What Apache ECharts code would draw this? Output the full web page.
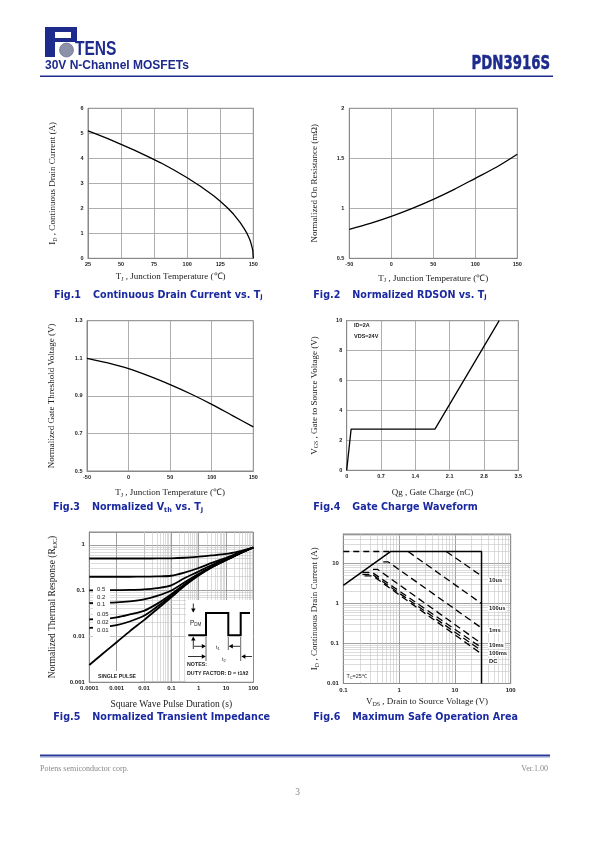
<!DOCTYPE html>
<html><head><meta charset="utf-8">
<script src="https://cdn.jsdelivr.net/npm/echarts@6/dist/echarts.min.js"></script>
<style>html,body{margin:0;padding:0;background:#fff}#c{width:595px;height:842px}</style>
</head><body><div id="c"></div>
<script>
// ---------------- DATA ----------------
const fig1Temp = [25,30,40,50,60,70,75,80,90,100,110,120,125,130,135,140,143,145,147,148,149,149.6,150];
const fig1Current = [5.10,5.00,4.79,4.56,4.33,4.08,3.95,3.82,3.53,3.22,2.88,2.50,2.28,2.04,1.77,1.44,1.20,1.02,0.79,0.65,0.46,0.32,0];
const fig1XTicks = ['25','50','75','100','125','150'];
const fig1YTicks = ['0','1','2','3','4','5','6'];

const fig2Temp = [-50,-25,0,25,50,75,100,125,150];
const fig2Rdson = [0.79,0.85,0.92,1.00,1.09,1.19,1.30,1.41,1.54];
const fig2XTicks = ['-50','0','50','100','150'];
const fig2YTicks = ['0.5','1','1.5','2'];

const fig3Temp = [-50,-25,0,25,50,75,100,125,150];
const fig3Vth = [1.10,1.075,1.045,1.005,0.96,0.91,0.855,0.795,0.735];
const fig3XTicks = ['-50','0','50','100','150'];
const fig3YTicks = ['0.5','0.7','0.9','1.1','1.3'];

const fig4Qg = [0,0.09,1.80,3.11];
const fig4Vgs = [0,2.75,2.75,10];
const fig4XTicks = ['0','0.7','1.4','2.1','2.8','3.5'];
const fig4YTicks = ['0','2','4','6','8','10'];

const fig5Duration = [0.0001,0.0003,0.001,0.003,0.01,0.03,0.1,0.3,1,3,10,30,100];
const fig5D050 = [0.50,0.50,0.50,0.50,0.50,0.502,0.505,0.52,0.55,0.585,0.63,0.72,0.87];
const fig5D020 = [0.20,0.20,0.20,0.20,0.201,0.203,0.21,0.245,0.31,0.40,0.52,0.67,0.87];
const fig5D010 = [0.101,0.101,0.102,0.103,0.106,0.113,0.13,0.185,0.26,0.36,0.49,0.65,0.87];
const fig5D005 = [0.053,0.054,0.055,0.058,0.064,0.076,0.10,0.15,0.232,0.335,0.47,0.637,0.87];
const fig5D002 = [0.0235,0.024,0.026,0.030,0.036,0.051,0.083,0.136,0.222,0.327,0.466,0.635,0.87];
const fig5D001 = [0.0152,0.0158,0.0175,0.021,0.028,0.044,0.077,0.13,0.218,0.323,0.463,0.633,0.87];
const fig5Single = [0.00235,0.0041,0.0074,0.0128,0.0225,0.039,0.071,0.125,0.212,0.318,0.458,0.63,0.87];
const fig5XTicks = ['0.0001','0.001','0.01','0.1','1','10','100'];
const fig5YTicks = ['0.001','0.01','0.1','1'];
const fig5Legend = ['0.5','0.2','0.1','0.05','0.02','0.01'];

const fig6LimitV = [0.1,0.7,30,30];
const fig6LimitI = [2.86,20,20,0.01];
const fig6PkgV = [0.1,0.7];
const fig6PkgI = [20,20];
const fig6V10us = [7.0,30];    const fig6I10us = [20,4.9];
const fig6V100us = [1.45,30];  const fig6I100us = [20,1.0];
const fig6V1ms = [0.52,0.64,30];  const fig6I1ms = [11,11,0.245];
const fig6V10ms = [0.34,0.41,30]; const fig6I10ms = [7.2,7.2,0.10];
const fig6V100ms = [0.22,0.33,30]; const fig6I100ms = [6.0,6.0,0.079];
const fig6V1s = [0.22,0.33,30];   const fig6I1s = [5.4,5.4,0.066];
const fig6VDC = [0.24,0.34,30];   const fig6IDC = [4.9,4.9,0.055];
const fig6XTicks = ['0.1','1','10','100'];
const fig6YTicks = ['0.01','0.1','1','10'];
const fig6Labels = ['10us','100us','1ms','10ms','100ms','DC'];

// ---------------- STYLE ----------------
const NAVY = '#1d2b8c';
const CAP = '#1b29a0';
const serif = '"Liberation Serif","Times New Roman",serif';
const sans = '"Liberation Sans",Arial,sans-serif';
const heavy = '"DejaVu Sans",sans-serif';
const zip = (a,b) => a.map((v,i)=>[v,b[i]]);

const nameRich = {
  m:{fontFamily:serif,fontSize:9,color:'#222',lineHeight:11},
  s:{fontFamily:serif,fontSize:6,color:'#222',lineHeight:8,verticalAlign:'bottom'}
};
function linAxis(gi,min,max,interval,ticks,name,nameGap,margin){
  return {gridIndex:gi,type:'value',min,max,interval,
    axisLine:{show:true,onZero:false,lineStyle:{color:'#888',width:1}},
    axisTick:{show:false},
    splitLine:{show:true,lineStyle:{color:'#999',width:0.8}},
    axisLabel:{fontSize:5.5,fontWeight:'bold',fontFamily:sans,color:'#222',margin,showMinLabel:true,showMaxLabel:true,
      formatter:v=>{const i=Math.round((v-min)/interval);return ticks[i]!==undefined?ticks[i]:'';}},
    name,nameLocation:'middle',nameGap,nameTextStyle:{fontFamily:serif,fontSize:9,color:'#222',rich:nameRich}};
}
function logAxis(gi,min,max,ticks,minExp,name,nameGap,margin,fs){
  return {gridIndex:gi,type:'log',logBase:10,min,max,
    axisLine:{show:true,onZero:false,lineStyle:{color:'#888',width:1}},
    axisTick:{show:false},
    splitLine:{show:true,lineStyle:{color:'#888',width:0.8}},
    axisLabel:{fontSize:6,fontWeight:'bold',fontFamily:sans,color:'#222',margin,showMinLabel:true,showMaxLabel:true,
      formatter:v=>{const e=Math.log10(v);const r=Math.round(e);if(Math.abs(e-r)>1e-6)return '';const t=ticks[r-minExp];return t!==undefined?t:'';}},
    name,nameLocation:'middle',nameGap,nameTextStyle:{fontFamily:serif,fontSize:fs||9,color:'#222',
      rich:{m:{fontFamily:serif,fontSize:fs||9,color:'#222',lineHeight:11},s:{fontFamily:serif,fontSize:6,color:'#222',lineHeight:8,verticalAlign:'bottom'}}}};
}
function minorVals(d0,d1,maxV){const out=[];for(let d=d0;d<=d1;d++)for(let k=2;k<10;k++){const v=+(k*Math.pow(10,d)).toPrecision(3);if(v<maxV)out.push(v);}return out;}
function minorSeries(gi,xs,ys,anchor){
  return {type:'line',xAxisIndex:gi,yAxisIndex:gi,data:[anchor],symbol:'none',lineStyle:{opacity:0},z:1,silent:true,
    markLine:{silent:true,z:1,symbol:['none','none'],label:{show:false},emphasis:{disabled:true},animation:false,
      lineStyle:{color:'#c4c4c4',width:0.6,type:'solid'},
      data:xs.map(v=>({xAxis:v})).concat(ys.map(v=>({yAxis:v})))}};
}
function line(gi,xs,ys,o){
  return Object.assign({type:'line',xAxisIndex:gi,yAxisIndex:gi,data:zip(xs,ys),symbol:'none',showSymbol:false,
    lineStyle:{color:'#000',width:1.3},silent:true,z:3},o||{});
}

// ---------------- GRAPHICS ----------------
const G = [];
function txt(x,y,text,o,el){G.push(Object.assign({type:'text',x,y,z:100,silent:true,style:Object.assign({text,fill:'#222',fontSize:6,fontFamily:sans,align:'left',verticalAlign:'middle'},o||{})},el||{}));}
function rect(x,y,w,h,fill,z){G.push({type:'rect',z:z||90,silent:true,shape:{x,y,width:w,height:h},style:{fill}});}
function pl(points,w,stroke){G.push({type:'polyline',z:100,silent:true,shape:{points},style:{stroke:stroke||'#000',lineWidth:w,fill:null}});}
function head(x,y,dir){
  const s=2.2,l=4; let p;
  if(dir==='down')p=[[x,y],[x-s,y-l],[x+s,y-l]];
  if(dir==='up')p=[[x,y],[x-s,y+l],[x+s,y+l]];
  if(dir==='right')p=[[x,y],[x-l,y-s],[x-l,y+s]];
  if(dir==='left')p=[[x,y],[x+l,y-s],[x+l,y+s]];
  G.push({type:'polygon',z:100,silent:true,shape:{points:p},style:{fill:'#000'}});
}

// header logo
rect(45,27,10,30,NAVY,95); rect(45,27,32,5,NAVY,95); rect(71,27,6,15,NAVY,95); rect(55,38,22,4,NAVY,95);
G.push({type:'circle',z:96,silent:true,shape:{cx:66.5,cy:50,r:7},style:{fill:'#8c92a8',stroke:'#5c6282',lineWidth:0.6}});
txt(75,49.5,'TENS',{fontSize:21,fontWeight:'bold',fontFamily:sans,fill:NAVY},{scaleX:0.74});
txt(45,66,'30V N-Channel MOSFETs',{fontSize:12,fontWeight:'bold',fontFamily:sans,fill:NAVY});
txt(550,64,'PDN3916S',{fontSize:19,fontWeight:'bold',fontFamily:heavy,fill:NAVY,align:'right',stroke:NAVY,lineWidth:0.5},{scaleX:0.7});
rect(40,75.5,513,1.5,NAVY,95);

// captions
const capRich = {s:{fontSize:6.5,fontWeight:'bold',fontFamily:heavy,fill:CAP,verticalAlign:'bottom',lineHeight:9}};
[[54,295,'Fig.1','Continuous Drain Current vs. T{s|J}'],
 [313.3,295,'Fig.2','Normalized RDSON vs. T{s|J}'],
 [53,507.7,'Fig.3','Normalized V{s|th} vs. T{s|J}'],
 [313.3,507.7,'Fig.4','Gate Charge Waveform'],
 [53.3,717.3,'Fig.5','Normalized Transient Impedance'],
 [313.3,717.3,'Fig.6','Maximum Safe Operation Area']].forEach(c=>{
  txt(c[0],c[1],c[2],{fontSize:9.6,fontWeight:'bold',fontFamily:heavy,fill:CAP});
  txt(c[0]+39,c[1],c[3],{fontSize:9.6,fontWeight:'bold',fontFamily:heavy,fill:CAP,lineHeight:12,rich:capRich});
});

// fig4 annotations
txt(354,325,'ID=2A',{fontSize:5.5,fontWeight:'bold'});
txt(354,336,'VDS=24V',{fontSize:5.5,fontWeight:'bold'});

// fig5 legend box
rect(93,584,17,53,'#fff');
const legY=[589,597.3,604.7,614,622.3,630.7];
fig5Legend.forEach((t,i)=>txt(97,legY[i],t,{fontSize:6,fontFamily:sans}));
rect(90.5,671,50,10.5,'#fff');
txt(98,677,'SINGLE PULSE',{fontSize:5.2,fontWeight:'bold'});
// fig5 inset
rect(186,600,67,81.5,'#fff');
pl([[188.3,635.3],[206,635.3],[206,613],[228.3,613],[228.3,635.3],[240.7,635.3],[240.7,613],[250,613]],2);
txt(190,623.5,'P{s|DM}',{fontSize:6.5,rich:{s:{fontSize:4.5,verticalAlign:'bottom',lineHeight:6}},lineHeight:8});
pl([[193.3,603.5],[193.3,612]],0.8); head(193.3,612.5,'down');
pl([[193.3,649],[193.3,637.5]],0.8); head(193.3,636.5,'up');
pl([[206,637],[206,661]],0.6); pl([[228.3,637],[228.3,650]],0.6); pl([[240.7,637],[240.7,661]],0.6);
pl([[194,646.3],[205,646.3]],0.8); head(205.8,646.3,'right');
pl([[240,646.3],[229.5,646.3]],0.8); head(228.8,646.3,'left');
txt(216,647.5,'t{s|1}',{fontSize:5.5,rich:{s:{fontSize:4,verticalAlign:'bottom',lineHeight:6}},lineHeight:7});
pl([[188,656.5],[205,656.5]],0.8); head(205.8,656.5,'right');
pl([[252,656.5],[242,656.5]],0.8); head(241.4,656.5,'left');
txt(222,659,'t{s|2}',{fontSize:5.5,rich:{s:{fontSize:4,verticalAlign:'bottom',lineHeight:6}},lineHeight:7});
txt(187,665,'NOTES:',{fontSize:5.3,fontWeight:'bold'});
txt(187,674,'DUTY FACTOR: D = t1/t2',{fontSize:5.3,fontWeight:'bold'});

// fig6 labels
rect(344,671.5,21,10,'#fff');
txt(346.5,676.5,'T{s|C}=25\u2103',{fontSize:5.3,rich:{s:{fontSize:4,verticalAlign:'bottom',lineHeight:6}},lineHeight:7});
const f6LabY=[580.5,608.5,630.5,645.5,653.3,661];
fig6Labels.forEach((t,i)=>txt(488,f6LabY[i],t,{fontSize:5.8,fontWeight:'bold',backgroundColor:'#fff',padding:[0,1]}));

// footer
rect(40,754.5,510,2,'#2a3a98',95); rect(40,756.5,510,1,'#8e9ad0',95);
txt(40,769,'Potens semiconductor corp.',{fontSize:8,fontFamily:serif,fill:'#888'});
txt(548,769,'Ver.1.00',{fontSize:8,fontFamily:serif,fill:'#888',align:'right'});
txt(297.5,792,'3',{fontSize:9.5,fontFamily:serif,fill:'#888',align:'center'});

// ---------------- OPTION ----------------
const grids=[
  {left:88,top:108.3,width:165.3,height:150},
  {left:349.3,top:108.3,width:168,height:150},
  {left:87,top:320.7,width:166.3,height:150.3},
  {left:346.7,top:320.7,width:171.6,height:149.6},
  {left:89.3,top:532,width:164,height:150},
  {left:343.3,top:534,width:167.4,height:149.5}
].map(g=>Object.assign(g,{show:true,borderColor:'#888',borderWidth:1,backgroundColor:'transparent'}));

const TJ='{m|T}{s|J}{m| , Junction Temperature (\u2103)}';
const option={
  animation:false,
  grid:grids,
  xAxis:[
    linAxis(0,25,150,25,fig1XTicks,TJ,13,3.5),
    linAxis(1,-50,150,50,fig2XTicks,TJ,14.5,3.5),
    linAxis(2,-50,150,50,fig3XTicks,TJ,16,3.5),
    linAxis(3,0,3.5,0.7,fig4XTicks,'{m|Qg , Gate Charge (nC)}',16.5,3.5),
    logAxis(4,0.0001,100,fig5XTicks,-4,'{m|Square Wave Pulse Duration (s)}',17,3.5,9.5),
    logAxis(5,0.1,100,fig6XTicks,-1,'{m|V}{s|DS}{m| , Drain to Source Voltage (V)}',13,3.5,9)
  ],
  yAxis:[
    linAxis(0,0,6,1,fig1YTicks,'{m|I}{s|D}{m| , Continuous Drain Current (A)}',30,4.5),
    linAxis(1,0.5,2,0.5,fig2YTicks,'{m|Normalized On Resistance (m\u03a9)}',29,5),
    linAxis(2,0.5,1.3,0.2,fig3YTicks,'{m|Normalized Gate Threshold Voltage (V)}',30,4.5),
    linAxis(3,0,10,2,fig4YTicks,'{m|V}{s|GS}{m| , Gate to Source Voltage (V)}',27,4.5),
    logAxis(4,0.001,1.9,fig5YTicks,-3,'{m|Normalized Thermal Response (R}{s|\u03b8JC}{m|)}',31,4.5,9.5),
    logAxis(5,0.01,55,fig6YTicks,-2,'{m|I}{s|D}{m| , Continuous Drain Current (A)}',23,4.5,9)
  ],
  series:[
    line(0,fig1Temp,fig1Current),
    line(1,fig2Temp,fig2Rdson,{smooth:0.3}),
    line(2,fig3Temp,fig3Vth,{smooth:0.3}),
    line(3,fig4Qg,fig4Vgs),
    minorSeries(4,minorVals(-4,1,100),minorVals(-3,0,1.9),[1,0.1]),
    line(4,fig5Duration,fig5D050,{smooth:0.3,lineStyle:{color:'#000',width:1.8}}),
    line(4,fig5Duration,fig5D020,{smooth:0.3,lineStyle:{color:'#000',width:1.8}}),
    line(4,fig5Duration,fig5D010,{smooth:0.3,lineStyle:{color:'#000',width:1.8}}),
    line(4,fig5Duration,fig5D005,{smooth:0.3,lineStyle:{color:'#000',width:1.8}}),
    line(4,fig5Duration,fig5D002,{smooth:0.3,lineStyle:{color:'#000',width:1.8}}),
    line(4,fig5Duration,fig5D001,{smooth:0.3,lineStyle:{color:'#000',width:1.8}}),
    line(4,fig5Duration,fig5Single,{smooth:0.3,lineStyle:{color:'#000',width:1.8}}),
    minorSeries(5,minorVals(-1,1,100),minorVals(-2,1,55),[1,1]),
    line(5,fig6LimitV,fig6LimitI,{lineStyle:{color:'#000',width:1.5}}),
    line(5,fig6PkgV,fig6PkgI,{lineStyle:{color:'#000',width:1.4,type:[6,4]}}),
    line(5,fig6V10us,fig6I10us,{lineStyle:{color:'#000',width:1.3,type:[7,4]}}),
    line(5,fig6V100us,fig6I100us,{lineStyle:{color:'#000',width:1.3,type:[7,4]}}),
    line(5,fig6V1ms,fig6I1ms,{lineStyle:{color:'#000',width:1.3,type:[7,4]}}),
    line(5,fig6V10ms,fig6I10ms,{lineStyle:{color:'#000',width:1.3,type:[7,4]}}),
    line(5,fig6V100ms,fig6I100ms,{lineStyle:{color:'#000',width:1.3,type:[7,4]}}),
    line(5,fig6V1s,fig6I1s,{lineStyle:{color:'#000',width:1.3,type:[7,4]}}),
    line(5,fig6VDC,fig6IDC,{lineStyle:{color:'#000',width:1.3,type:[7,4]}})
  ],
  graphic:{elements:G}
};
const chart=echarts.init(document.getElementById('c'),null,{renderer:'canvas',width:595,height:842});
chart.setOption(option);
</script></body></html>
